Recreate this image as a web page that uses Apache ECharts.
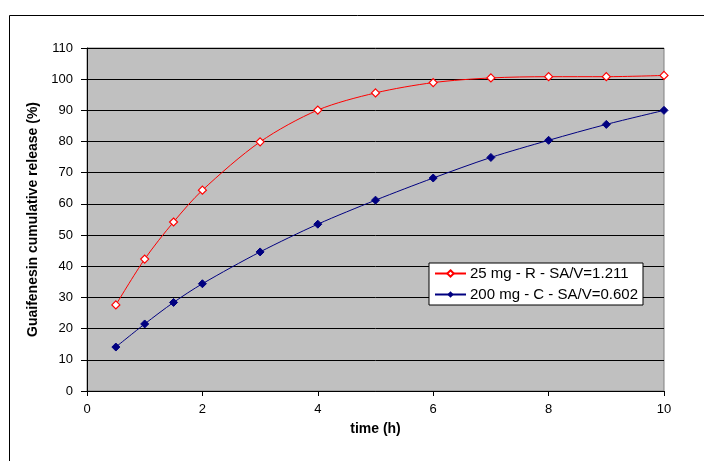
<!DOCTYPE html>
<html><head><meta charset="utf-8">
<script src="https://cdn.jsdelivr.net/npm/echarts@6/dist/echarts.min.js"></script>
<style>html,body{margin:0;padding:0;background:#fff}#c{width:704px;height:461px}</style>
</head><body><div id="c"></div>
<script>
const times = [0.5, 1, 1.5, 2, 3, 4, 5, 6, 7, 8, 9, 10];
const series25R = [27.6, 42.3, 54.2, 64.4, 79.9, 90.1, 95.6, 98.9, 100.4, 100.8, 100.8, 101.2];
const series200C = [14.1, 21.5, 28.4, 34.4, 44.6, 53.5, 61.2, 68.3, 74.9, 80.4, 85.5, 90.0];
const seriesNames = ['25 mg - R - SA/V=1.211', '200 mg - C - SA/V=0.602'];
const xTitle = 'time (h)';
const yTitle = 'Guaifenesin cumulative release (%)';

const font = 'Liberation Sans, Arial, sans-serif';
const chart = echarts.init(document.getElementById('c'));
chart.setOption({
  animation: false,
  graphic: [{type:'rect', left:7, top:13, shape:{width:720, height:470}, style:{fill:'none', stroke:'#000', lineWidth:1}, z:-1}],
  grid: {left:87, right:40, top:48, bottom:70, show:true, backgroundColor:'#C0C0C0', borderColor:'#808080', borderWidth:1},
  legend: {
    orient:'vertical', left:429, top:263, itemWidth:31, itemHeight:8, itemGap:6,
    backgroundColor:'#fff', borderColor:'#000', borderWidth:1, padding:[3,5,3,5],
    textStyle:{fontFamily:font, fontSize:15, color:'#000', padding:[0,0,0,-1]},
    data: seriesNames
  },
  xAxis: {
    type:'value', min:0, max:10, interval:2,
    name:xTitle, nameLocation:'middle', nameGap:31,
    nameTextStyle:{fontFamily:font, fontSize:14, fontWeight:'bold', color:'#000'},
    axisLine:{show:true, onZero:false, lineStyle:{color:'#000'}},
    axisTick:{show:true, length:5, lineStyle:{color:'#000'}},
    axisLabel:{fontFamily:font, fontSize:13, color:'#000', margin:12},
    splitLine:{show:false}
  },
  yAxis: {
    type:'value', min:0, max:110, interval:10,
    name:yTitle, nameLocation:'middle', nameGap:47,
    nameTextStyle:{fontFamily:font, fontSize:14, fontWeight:'bold', color:'#000'},
    axisLine:{show:true, lineStyle:{color:'#000'}},
    axisTick:{show:true, length:6, lineStyle:{color:'#000'}},
    axisLabel:{fontFamily:font, fontSize:13, color:'#000', margin:14},
    splitLine:{show:true, lineStyle:{color:'#000', width:1}}
  },
  series: [
    {name:seriesNames[0], type:'line', smooth:0.3, data:times.map((t,i)=>[t, series25R[i]]),
     symbol:'diamond', symbolSize:8, lineStyle:{color:'#FF0000', width:1},
     itemStyle:{color:'#FFFFFF', borderColor:'#FF0000', borderWidth:1.2}, z:3},
    {name:seriesNames[1], type:'line', smooth:0.3, data:times.map((t,i)=>[t, series200C[i]]),
     symbol:'diamond', symbolSize:8, lineStyle:{color:'#000080', width:1},
     itemStyle:{color:'#000080', borderColor:'#000080'}, z:4}
  ]
});
</script></body></html>
